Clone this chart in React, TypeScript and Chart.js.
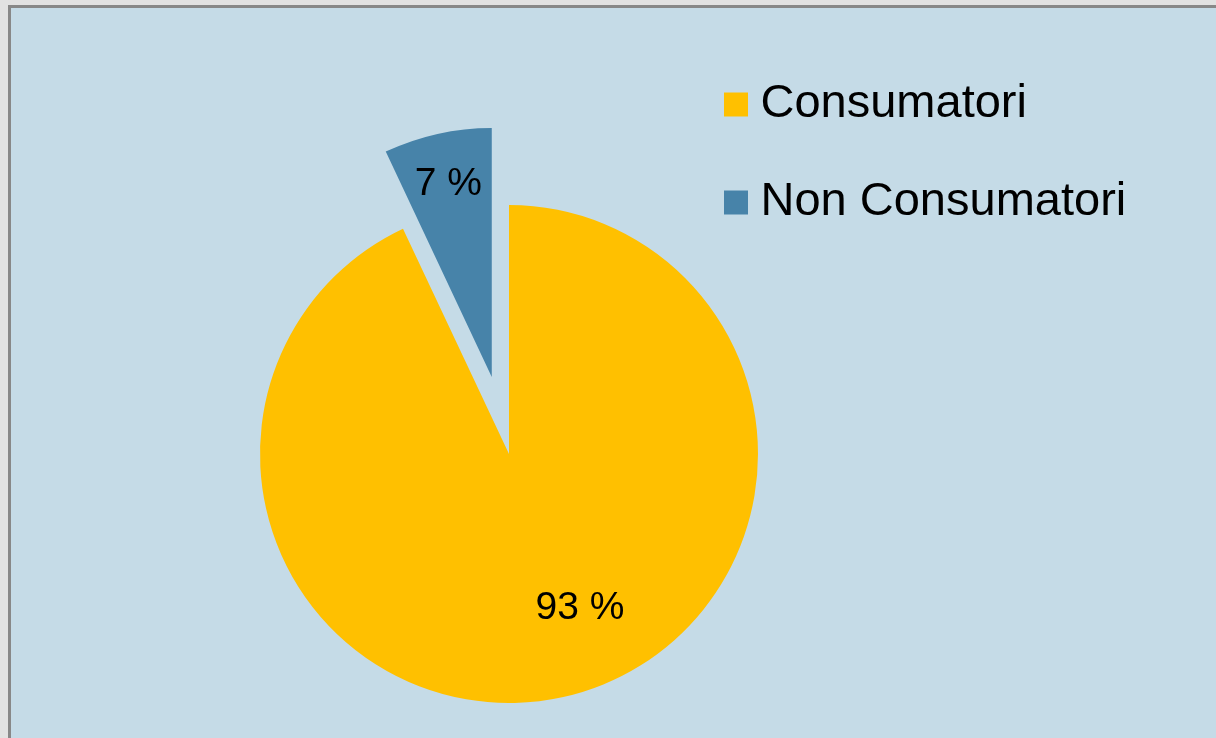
import React, { useEffect, useRef } from "react";
import { Chart, registerables } from "chart.js";

Chart.register(...registerables);

const categories = ["Consumatori", "Non Consumatori"];
const values = [93, 7];
const valueLabels = ["93 %", "7 %"];
const sliceColors = ["#ffc000", "#4783a9"];

// styling / placement (not data)
const EXPLODE = [0, 79];
const LABEL_RADIUS = [0.675, 0.8];
const LABEL_ANGLE_SHIFT_DEG = [-12.4, 0];
const FONT = "'Liberation Sans', Arial, sans-serif";

const explodePlugin = {
  id: "explodeDraw",
  beforeDraw(chart: any) {
    // let the legend's clip box reach the canvas' right edge
    if (chart.legend) chart.legend.right = chart.width;
  },
  beforeDatasetDraw(chart: any, args: any) {
    const ctx = chart.ctx;
    args.meta.data.forEach((arc: any, i: number) => {
      const d = EXPLODE[i] || 0;
      const mid = (arc.startAngle + arc.endAngle) / 2;
      ctx.save();
      ctx.translate(Math.cos(mid) * d, Math.sin(mid) * d);
      arc.draw(ctx);
      ctx.restore();
    });
    return false;
  },
};

const labelPlugin = {
  id: "sliceLabels",
  afterDatasetsDraw(chart: any) {
    const ctx = chart.ctx;
    const meta = chart.getDatasetMeta(0);
    ctx.save();
    ctx.font = `39px ${FONT}`;
    ctx.fillStyle = "#000";
    ctx.textAlign = "center";
    ctx.textBaseline = "middle";
    meta.data.forEach((arc: any, i: number) => {
      const mid = (arc.startAngle + arc.endAngle) / 2;
      const d = EXPLODE[i] || 0;
      const a = mid + (LABEL_ANGLE_SHIFT_DEG[i] * Math.PI) / 180;
      const r = arc.outerRadius * LABEL_RADIUS[i];
      const x = arc.x + Math.cos(mid) * d + Math.cos(a) * r;
      const y = arc.y + Math.sin(mid) * d + Math.sin(a) * r + 2;
      ctx.fillText(valueLabels[i], x, y);
    });
    ctx.restore();
  },
};

export default function App() {
  const ref = useRef<HTMLCanvasElement>(null);
  useEffect(() => {
    if (!ref.current) return;
    const chart = new Chart(ref.current, {
      type: "pie",
      data: {
        labels: categories,
        datasets: [
          {
            data: values,
            backgroundColor: sliceColors,
            borderWidth: 0,
            radius: 249,
          } as any,
        ],
      },
      options: {
        responsive: false,
        animation: false,
        layout: { padding: { left: 334, right: 182, top: 30, bottom: 0 } },
        plugins: {
          tooltip: { enabled: false },
          legend: {
            display: true,
            position: "right",
            align: "start",
            labels: {
              color: "#000",
              font: { family: FONT, size: 47 },
              boxWidth: 2,
              boxHeight: 2,
              padding: 51,
              generateLabels: (c: any) =>
                c.data.labels.map((t: string, i: number) => ({
                  text: t,
                  fillStyle: sliceColors[i],
                  strokeStyle: sliceColors[i],
                  lineWidth: 22,
                  lineJoin: "miter",
                  hidden: false,
                  index: i,
                })),
            },
          },
        },
      },
      plugins: [explodePlugin, labelPlugin],
    });
    return () => chart.destroy();
  }, []);

  return (
    <div
      style={{
        position: "fixed",
        left: 0,
        top: 0,
        width: 1216,
        height: 738,
        overflow: "hidden",
        background: "#e2e2e2",
      }}
    >
      <div
        style={{
          position: "absolute",
          left: 8,
          top: 5,
          width: 1300,
          height: 800,
          borderTop: "3px solid #888888",
          borderLeft: "3px solid #888888",
          background: "#c5dbe7",
        }}
      />
      <canvas
        ref={ref}
        width={1216}
        height={878}
        style={{ position: "absolute", left: 0, top: 0, width: 1216, height: 878 }}
      />
    </div>
  );
}
